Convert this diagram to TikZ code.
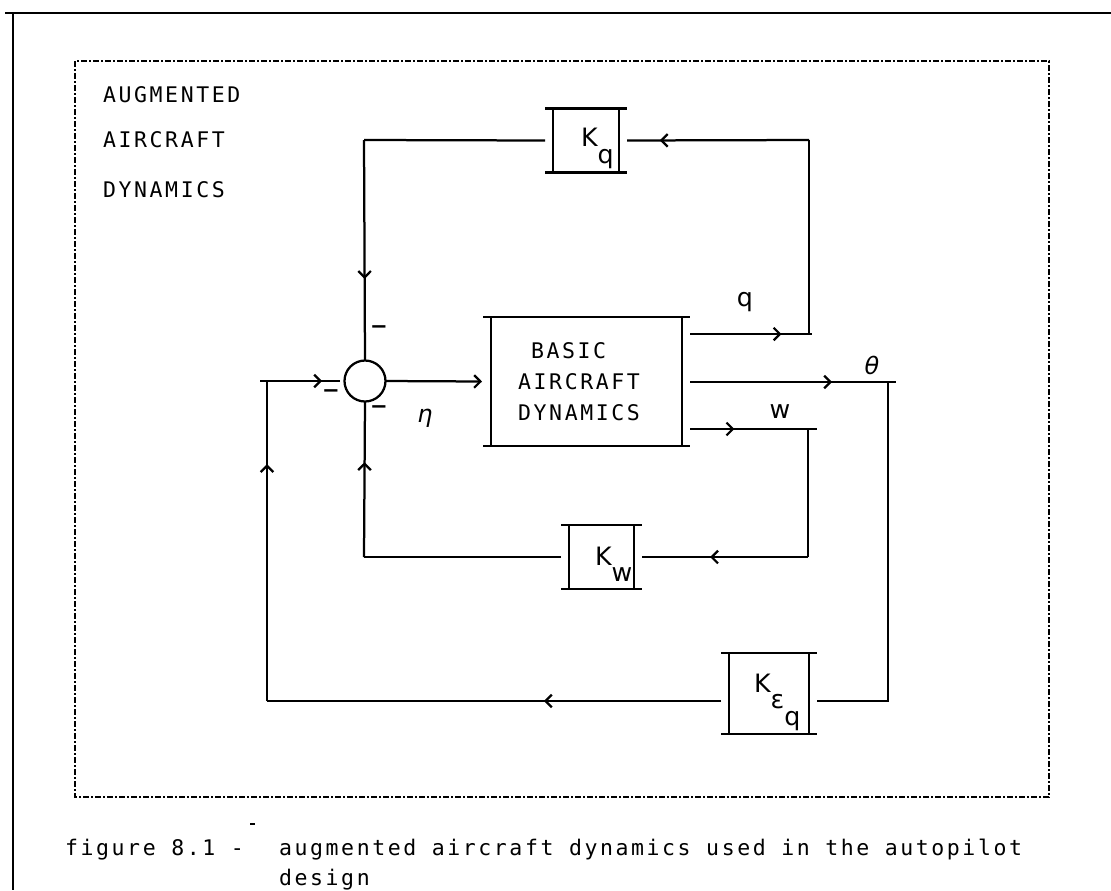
\documentclass[tikz,border=0pt]{standalone}
\usepackage{fontspec}
\newfontfamily\plotfont{DejaVu Sans Mono}[LetterSpace=12]
\newfontfamily\gainfont{DejaVu Sans}
\usepackage{tikz}
\usetikzlibrary{arrows.meta,positioning,decorations.markings,calc}

% block with the top and bottom rules running past the sides
\newcommand{\gainframe}[1]{%
  \draw ([xshift=-2mm]#1.north west) -- ([xshift=2mm]#1.north east)
        ([xshift=-2mm]#1.south west) -- ([xshift=2mm]#1.south east)
        (#1.north west) -- (#1.south west)
        (#1.north east) -- (#1.south east);}

\begin{document}
\begin{tikzpicture}[
  x=0.25mm,y=-0.25mm,
  line width=1.6pt,
  lbl/.style={font=\plotfont\fontsize{15.3}{22}\selectfont,inner sep=0pt},
  captext/.style={font=\plotfont\fontsize{15.3}{20}\selectfont,inner sep=0pt},
  klbl/.style={font=\gainfont\fontsize{18}{18}\selectfont,inner sep=0pt},
  sym/.style={font=\gainfont\itshape\fontsize{17}{17}\selectfont,inner sep=0pt},
  minus/.style={font=\gainfont\bfseries\fontsize{15}{15}\selectfont,inner sep=0pt},
  gain/.style={inner sep=0pt,outer sep=0pt,minimum width=16.5mm,minimum height=16mm},
  midarrow/.style={postaction={decorate},decoration={markings,
      mark=at position #1 with {\arrow{Straight Barb[length=4.5pt,width=9pt]}}}},
  tip/.style={-{Straight Barb[length=4.5pt,width=9pt]}},
  bound/.style={line width=1.2pt,dash pattern=on 1.6mm off 0.5mm on 0.4mm off 0.5mm}
]
\useasboundingbox (0,0) rectangle (1111,890);

% page rules and dotted boundary
\draw (5,13) -- (1111,13);
\draw (13,13) -- (13,890);
\draw[bound] (75,61) rectangle (1049,797);

\node[lbl,anchor=base west] (augm) at (102,102) {AUGMENTED};
\node[lbl,anchor=base west] (acft) at (102,147) {AIRCRAFT};
\node[lbl,anchor=base west] (dyns) at (102,197) {DYNAMICS};

% blocks
\node[circle,draw,minimum size=10.25mm,inner sep=0pt,outer sep=0pt] (sum) at (365,381) {};
\node[gain,minimum width=47.75mm,minimum height=32.25mm] (plant) at (586.5,381.5) {};
\node[lbl,align=left] (plantlbl) at (579,382) {\hphantom{A}BASIC\\AIRCRAFT\\DYNAMICS};
\node[gain] (kq) at (586,140.5) {};
\node[gain,minimum width=16.25mm] (kw) at (601.5,557) {};
\node[gain,minimum width=20mm,minimum height=20.25mm] (keq) at (769,693.5) {};
\gainframe{plant}
\gainframe{kq}
\gainframe{kw}
\gainframe{keq}

\node[klbl,anchor=base west] (kqt) at (580,146) {K\raisebox{-12.5pt}{q}};
\node[klbl,anchor=base west] (kwt) at (594,565) {K\raisebox{-12pt}{w}};
\node[klbl,anchor=base west] (keqt) at (753,692) {K\raisebox{-11.4pt}{ε\raisebox{-12.6pt}{q}}};

% corners of the loops
\coordinate (pe) at ([xshift=2mm]plant.east);
\coordinate (keqe) at ([xshift=2mm]keq.east);
\coordinate (keqw) at ([xshift=-2mm]keq.west);
\coordinate (qout) at (812,334);
\coordinate (qv) at (809,334);
\coordinate (qtop) at (809,140);
\coordinate (tout) at (896,382);
\coordinate (tv) at (888,382);
\coordinate (tbot) at (888,701);
\coordinate (wout) at (817,429);
\coordinate (wv) at (808,429);
\coordinate (wbot) at (808,557);
\coordinate (lin) at (260,381);
\coordinate (ltop) at (267,381);
\coordinate (lbot) at (267,701);
\coordinate (fbtop) at (364,140);
\coordinate (fbbot) at (364,557);

% forward path
\draw[midarrow=0.78] (lin) -- ([xshift=-1.2mm]sum.west);
\draw[tip] (sum.east) -- ([xshift=-2.25mm]plant.west);

% outputs
\draw[midarrow=0.75] (pe |- qout) -- (qout);
\draw[midarrow=0.69] (pe |- tout) -- (tout);
\draw[midarrow=0.35] (pe |- wout) -- (wout);

% pitch rate loop
\draw (qv) -- (qtop);
\draw[midarrow=0.82] (qtop) -- ([xshift=2mm]kq.east);
\draw ([xshift=-2mm]kq.west) -- (fbtop);
\draw[midarrow=0.63] (fbtop) -- (sum.north);

% w loop
\draw (wv) -- (wbot);
\draw[midarrow=0.59] (wbot) -- ([xshift=2mm]kw.east);
\draw ([xshift=-2mm]kw.west) -- (fbbot);
\draw[midarrow=0.61] (fbbot) -- (sum.south);

% attitude loop
\draw (tv) -- (tbot) -- (keqe |- tbot);
\draw[midarrow=0.39] (keqw |- lbot) -- (lbot);
\draw[midarrow=0.74] (lbot) -- (ltop);

% signal labels
\node[klbl] (qlbl) at (745,302) {q};
\node[klbl] (wlbl) at (780,412) {w};
\node[sym] (thlbl) at (872,365) {θ};
\node[sym] (etalbl) at (425,418) {η};
\node[minus] (mtop) at (379,330) {−};
\node[minus] (mleft) at (331,394) {−};
\node[minus] (mbot) at (379,410) {−};

% caption
\draw[line width=0.8pt] (250,824) -- (255,824);
\node[captext,anchor=base west] (capno) at (64,855) {figure 8.1 -};
\node[captext,anchor=base west] (captxt) at (278,855) {augmented aircraft dynamics used in the autopilot};
\node[captext,anchor=base west] (capdsg) at (278,885) {design};
\end{tikzpicture}
\end{document}
